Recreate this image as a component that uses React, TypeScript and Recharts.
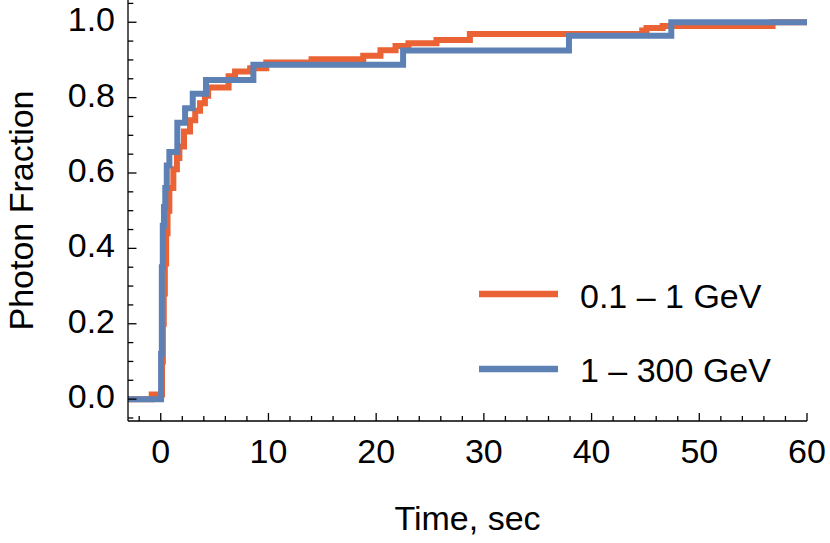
import { LineChart, Line, XAxis, YAxis, Legend } from "recharts";

// step points (time in sec, cumulative photon fraction)
const blueTimes = [-3.04, 0.03, 0.1, 0.19, 0.3, 0.42, 0.56, 0.8, 1.54, 2.26, 2.97, 4.2, 8.6, 22.5, 37.9, 47.4, 60];
const blueFractions = [0, 0.12, 0.35, 0.46, 0.51, 0.56, 0.62, 0.656, 0.733, 0.772, 0.81, 0.847, 0.887, 0.925, 0.964, 1.0, 1.0];

const orangeTimes = [
  -3.04, -0.84, 0.12, 0.2, 0.28, 0.38, 0.5, 0.63, 0.8, 1.17, 1.5, 1.73, 2.16, 2.72, 3.2, 3.65, 4.1, 4.4,
  6.3, 6.9, 8.3, 9.8, 14.0, 18.8, 20.4, 21.8, 23.0, 25.6, 28.7, 44.7, 45.1, 46.6, 56.8, 60,
];
const orangeFractions = [
  0, 0.012, 0.1, 0.2, 0.28, 0.36, 0.44, 0.5, 0.56, 0.61, 0.64, 0.67, 0.71, 0.74, 0.765, 0.785, 0.805, 0.827,
  0.857, 0.869, 0.878, 0.893, 0.902, 0.911, 0.926, 0.937, 0.944, 0.953, 0.969, 0.978, 0.985, 0.99, 1.0, 1.0,
];

const seriesNames = ["0.1 – 1 GeV", "1 – 300 GeV"];

const xTicks = [-2, 0, 2, 4, 6, 8, 10, 12, 14, 16, 18, 20, 22, 24, 26, 28, 30, 32, 34, 36, 38, 40, 42, 44, 46, 48, 50, 52, 54, 56, 58, 60];
const yTicks = [-0.05, 0, 0.05, 0.1, 0.15, 0.2, 0.25, 0.3, 0.35, 0.4, 0.45, 0.5, 0.55, 0.6, 0.65, 0.7, 0.75, 0.8, 0.85, 0.9, 0.95, 1.0, 1.05];

const ORANGE = "#EB6235";
const BLUE = "#5E81B5";
const FONT = "'Liberation Sans', Arial, sans-serif";

const toPoints = (ts: number[], fs: number[]) => ts.map((t, i) => ({ t, f: fs[i] }));

const orangeData = toPoints(orangeTimes, orangeFractions);
const blueData = toPoints(blueTimes, blueFractions);

function XTick({ x, y, payload }: any) {
  const v = payload.value;
  const major = v % 10 === 0;
  return (
    <g>
      <line x1={x} x2={x} y1={y} y2={y - (major ? 8 : 5)} stroke="#000" strokeWidth={1.3} />
      {major && (
        <text x={x} y={y + 42} textAnchor="middle" fontSize={34} fontFamily={FONT} fill="#000">
          {v}
        </text>
      )}
    </g>
  );
}

function YTick({ x, y, payload }: any) {
  const v = payload.value;
  const major = Math.abs(v * 5 - Math.round(v * 5)) < 1e-6;
  return (
    <g>
      <line x1={x} x2={x + (major ? 8.5 : 5.3)} y1={y} y2={y} stroke="#000" strokeWidth={1.3} />
      {major && v >= 0 && (
        <text x={x - 13} y={y + 9} textAnchor="end" fontSize={34} fontFamily={FONT} fill="#000">
          {v.toFixed(1)}
        </text>
      )}
    </g>
  );
}

function LegendBox() {
  const colors = [ORANGE, BLUE];
  return (
    <svg width={340} height={130}>
      {seriesNames.map((name, i) => (
        <g key={name}>
          <line x1={9} x2={88} y1={24 + i * 75} y2={24 + i * 75} stroke={colors[i]} strokeWidth={6.5} />
          <text x={110} y={38 + i * 74} fontSize={34} fontFamily={FONT} fill="#000">
            {name}
          </text>
        </g>
      ))}
    </svg>
  );
}

export default function App() {
  return (
    <div style={{ position: "absolute", left: 0, top: 0, background: "#fff" }}>
      <LineChart width={830} height={543} margin={{ top: 0, right: 23, bottom: 0, left: 0 }}>
        <XAxis
          type="number"
          dataKey="t"
          domain={[-3.04, 60]}
          allowDataOverflow
          ticks={xTicks}
          interval={0}
          tickSize={0}
          tickMargin={0}
          tickLine={false}
          tick={<XTick />}
          height={122}
          axisLine={{ stroke: "#000", strokeWidth: 1.3 }}
          label={(props: any) => {
            const vb = props.viewBox || { x: 128, y: 421, width: 679 };
            return (
              <text x={vb.x + vb.width / 2} y={vb.y + 108.5} textAnchor="middle" fontSize={34} fontFamily={FONT} fill="#000">
                Time, sec
              </text>
            );
          }}
        />
        <YAxis
          type="number"
          dataKey="f"
          domain={[-0.058, 1.059]}
          allowDataOverflow
          ticks={yTicks}
          interval={0}
          tickSize={0}
          tickMargin={0}
          tickLine={false}
          tick={<YTick />}
          width={128}
          axisLine={{ stroke: "#000", strokeWidth: 1.3 }}
          label={(props: any) => {
            const vb = props.viewBox || { x: 0, y: 0, height: 421 };
            const cy = vb.y + vb.height / 2;
            return (
              <text x={33} y={cy} transform={`rotate(-90, 33, ${cy})`} textAnchor="middle" fontSize={34} fontFamily={FONT} fill="#000">
                Photon Fraction
              </text>
            );
          }}
        />
        <Line
          data={orangeData}
          dataKey="f"
          name={seriesNames[0]}
          type="stepAfter"
          stroke={ORANGE}
          strokeWidth={6}
          strokeLinejoin="miter"
          dot={false}
          activeDot={false}
          isAnimationActive={false}
        />
        <Line
          data={blueData}
          dataKey="f"
          name={seriesNames[1]}
          type="stepAfter"
          stroke={BLUE}
          strokeWidth={6}
          strokeLinejoin="miter"
          dot={false}
          activeDot={false}
          isAnimationActive={false}
        />
        <Legend
          layout="vertical"
          align="center"
          verticalAlign="middle"
          content={<LegendBox />}
          wrapperStyle={{ left: 470, top: 270, width: 340, height: 130 }}
        />
      </LineChart>
    </div>
  );
}
